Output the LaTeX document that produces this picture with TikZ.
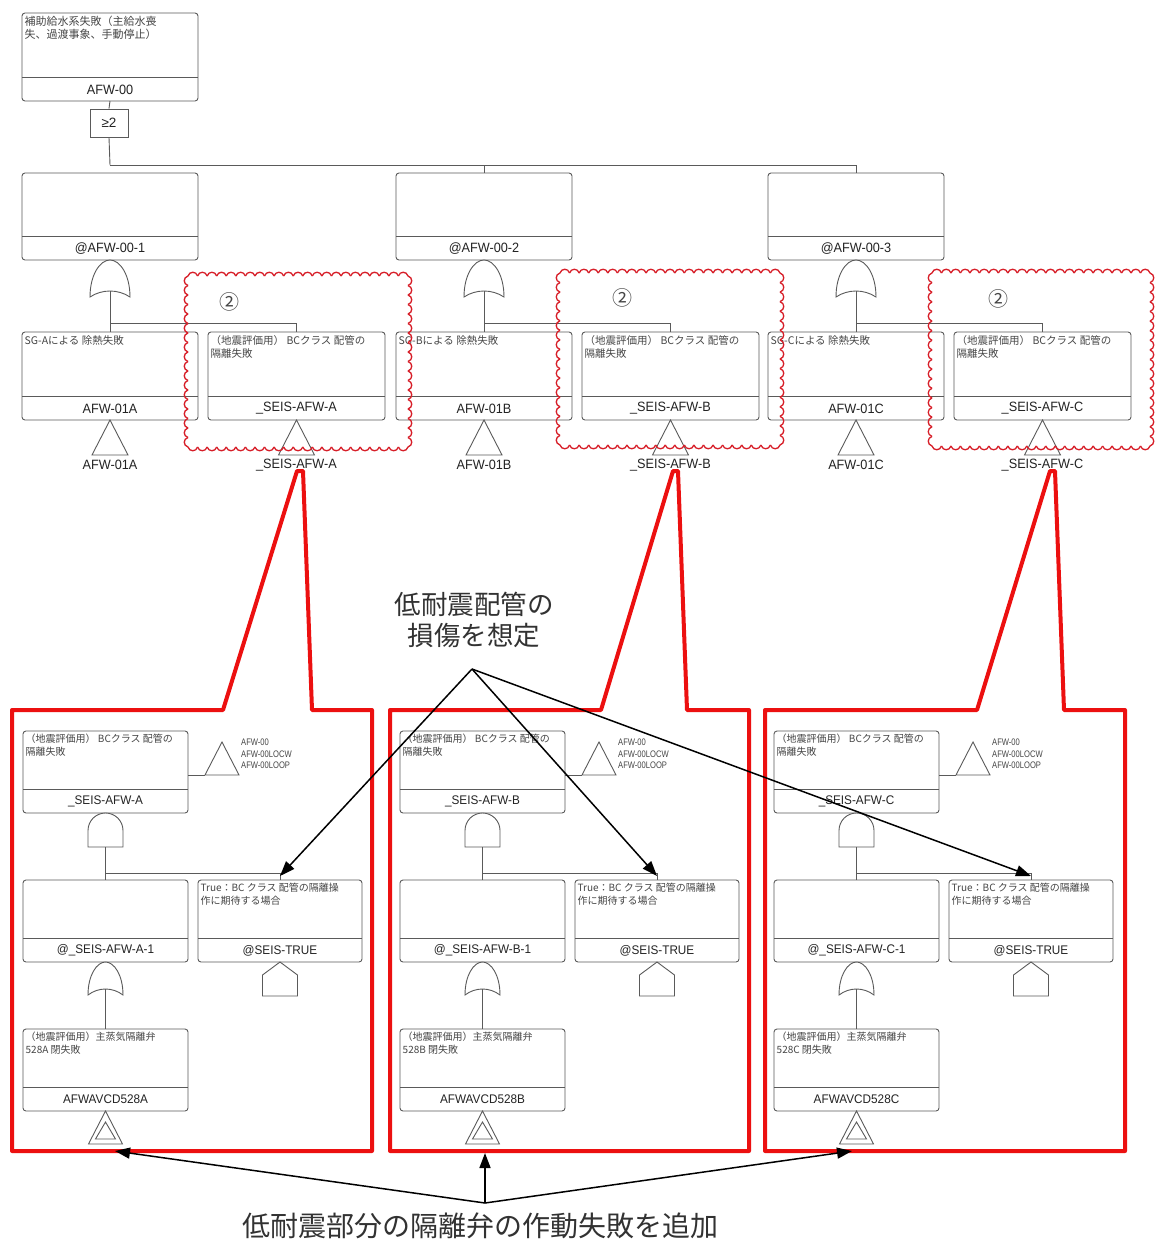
\documentclass[tikz,border=0pt]{standalone}
\usepackage{fontspec}
\setmainfont{Liberation Sans}
\newfontfamily\jp{Noto Sans CJK JP}
\newfontfamily\narrowfont[FakeStretch=0.8]{Liberation Sans}
\newfontfamily\labfont[FakeStretch=0.94]{Liberation Sans}
\usetikzlibrary{arrows.meta}
\definecolor{boxgray}{RGB}{90,90,90}
\definecolor{descgray}{RGB}{70,70,70}
\definecolor{labgray}{RGB}{35,35,35}
\definecolor{redc}{RGB}{236,16,16}
\definecolor{cloudred}{RGB}{215,30,40}
\definecolor{ctext}{RGB}{50,50,50}
\def\labsz{13.5}
\def\descsz{10.5}
\def\descbs{13}
\tikzset{
  ftbox/.style={draw=boxgray, line width=0.9pt, rounded corners=3pt, inner sep=0pt, outer sep=0pt, anchor=north west, fill=white},
  ftline/.style={draw=boxgray, line width=0.9pt},
  desc/.style={font={\jp\fontsize{\descsz}{\descbs}\selectfont}, text=descgray, align=left, inner sep=0pt, anchor=north west},
  lab/.style={font={\labfont\fontsize{\labsz}{\labsz}\selectfont}, text=labgray, inner sep=0pt},
  gate/.style={draw=boxgray, line width=0.9pt, fill=white},
  xfer/.style={font={\narrowfont\fontsize{9.5}{11.5}\selectfont}, text=descgray, align=left, inner sep=0pt},
  redpanel/.style={draw=redc, line width=4pt, line join=round},
  cloudline/.style={draw=cloudred, line width=1.3pt},
  callarrow/.style={draw=black, line width=1.5pt, -{Triangle[length=15pt,width=11pt]}},
  calltext/.style={font={\jp\fontsize{26.5}{31}\selectfont}, text=ctext, align=center, inner sep=0pt},
  circnum/.style={font={\jp\fontsize{20}{20}\selectfont}, text=descgray, inner sep=0pt},
}
% fault tree box: name, x, y(top), w, h, description, label
\newcommand{\ftb}[7]{%
  \node[ftbox, minimum width=#4pt, minimum height=#5pt] (#1) at (#2,#3) {};
  \draw[ftline] ([yshift=24pt]#1.south west) -- ([yshift=24pt]#1.south east);
  \node[desc] (#1-d) at ([xshift=2.5pt,yshift=-3pt]#1.north west) {#6};
  \node[lab] (#1-l) at ([yshift=11.5pt]#1.south) {#7};
}
% OR gate: name, x, top, bottom, half width
\newcommand{\orgate}[5]{%
  \coordinate (#1-t) at (#2,#3);
  \coordinate (#1-b) at (#2,{#4-6});
  \draw[gate] ({#2-#5},#4) .. controls ({#2-#5},{#3+0.4*(#4-#3)}) and ({#2-0.5*#5},#3) .. (#1-t)
     .. controls ({#2+0.5*#5},#3) and ({#2+#5},{#3+0.4*(#4-#3)}) .. ({#2+#5},#4)
     .. controls ({#2+0.4*#5},{#4-8}) and ({#2-0.4*#5},{#4-8}) .. cycle;
}
% AND gate: name, x, top, bottom, half width
\newcommand{\andgate}[5]{%
  \coordinate (#1-t) at (#2,#3);
  \coordinate (#1-b) at (#2,#4);
  \draw[gate] ({#2-#5},#4) -- ({#2-#5},{#3+#5}) arc[start angle=180, end angle=0, radius=#5pt] -- ({#2+#5},#4) -- cycle;
}
% triangle: name, x, top, bottom, half width
\newcommand{\fttri}[5]{%
  \coordinate (#1-t) at (#2,#3);
  \coordinate (#1-b) at (#2,#4);
  \coordinate (#1-bl) at ({#2-#5},#4);
  \draw[gate] (#1-t) -- ({#2+#5},#4) -- (#1-bl) -- cycle;
}
\newcommand{\ftdtri}[5]{%
  \fttri{#1}{#2}{#3}{#4}{#5}
  \draw[gate] (#2,{#3+11}) -- ({#2+10},{#4-5}) -- ({#2-10},{#4-5}) -- cycle;
}
% house: name, x, peak, shoulder, bottom, half width
\newcommand{\fthouse}[6]{%
  \coordinate (#1-t) at (#2,#3);
  \draw[gate] (#1-t) -- ({#2+#6},#4) -- ({#2+#6},#5) -- ({#2-#6},#5) -- ({#2-#6},#4) -- cycle;
}
% revision cloud rectangle
\newcommand{\cloudrect}[4]{%
  \pgfmathsetmacro\clw{#3-#1}%
  \pgfmathsetmacro\clh{#4-#2}%
  \pgfmathtruncatemacro\clnx{round(\clw/9.5)}%
  \pgfmathtruncatemacro\clny{round(\clh/9.5)}%
  \pgfmathsetmacro\clsx{\clw/\clnx}%
  \pgfmathsetmacro\clsy{\clh/\clny}%
  \foreach \i in {1,...,\clnx}{%
    \draw[cloudline] ({#1+(\i-1)*\clsx},#2) .. controls ({#1+(\i-0.85)*\clsx},{#2-5}) and ({#1+(\i-0.15)*\clsx},{#2-5}) .. ({#1+\i*\clsx},#2);
    \draw[cloudline] ({#1+(\i-1)*\clsx},#4) .. controls ({#1+(\i-0.85)*\clsx},{#4+5}) and ({#1+(\i-0.15)*\clsx},{#4+5}) .. ({#1+\i*\clsx},#4);
  }%
  \foreach \i in {1,...,\clny}{%
    \draw[cloudline] (#1,{#2+(\i-1)*\clsy}) .. controls ({#1-5},{#2+(\i-0.85)*\clsy}) and ({#1-5},{#2+(\i-0.15)*\clsy}) .. (#1,{#2+\i*\clsy});
    \draw[cloudline] (#3,{#2+(\i-1)*\clsy}) .. controls ({#3+5},{#2+(\i-0.85)*\clsy}) and ({#3+5},{#2+(\i-0.15)*\clsy}) .. (#3,{#2+\i*\clsy});
  }%
}
% upper group: suffix, dx, letter, number
\newcommand{\topgroup}[4]{%
  \ftb{la#1}{22+#2}{173}{176}{87}{}{@AFW-00-#4}
  \orgate{lo#1}{110+#2}{260}{297}{20}
  \ftb{sg#1}{22+#2}{332}{176}{88}{SG-#3による 除熱失敗}{AFW-01#3}
  \ftb{se#1}{208+#2}{332}{177}{88}{（地震評価用） BCクラス 配管の\\隔離失敗}{\_SEIS-AFW-#3}
  \fttri{ts#1}{110+#2}{420}{455}{18}
  \fttri{te#1}{296.5+#2}{420}{455}{18}
  \node[lab] (ts#1-l) at (110+#2,465) {AFW-01#3};
  \node[lab] (te#1-l) at (296.5+#2,465) {\_SEIS-AFW-#3};
  \draw[ftline] (lo#1-b) -- (sg#1.north);
  \coordinate (lb#1) at (110+#2,323);
  \draw[ftline] (lb#1) -| (se#1.north);
}
% lower panel: suffix, dx, letter
\newcommand{\lowpanel}[3]{%
  \ftb{pa#1}{23+#2}{731}{165}{82}{（地震評価用） BCクラス 配管の\\隔離失敗}{\_SEIS-AFW-#3}
  \fttri{pt#1}{222+#2}{742}{775}{17}
  \draw[ftline] (pa#1.east |- pt#1-b) -- (pt#1-bl);
  \node[xfer, anchor=north west] (px#1) at (241+#2,739) {AFW-00\\AFW-00LOCW\\AFW-00LOOP};
  \andgate{pg#1}{105.5+#2}{813}{847}{17.5}
  \ftb{pb#1}{23+#2}{880}{165}{82}{}{@\_SEIS-AFW-#3-1}
  \ftb{pc#1}{198+#2}{880}{164}{82}{True：BC クラス 配管の隔離操\\作に期待する場合}{@SEIS-TRUE}
  \fthouse{ph#1}{280+#2}{962}{975}{996}{17.5}
  \orgate{po#1}{105.5+#2}{962}{995}{17.5}
  \ftb{pd#1}{23+#2}{1029}{165}{82}{（地震評価用）主蒸気隔離弁\\528#3 閉失敗}{AFWAVCD528#3}
  \ftdtri{pu#1}{105.5+#2}{1111}{1144}{17}
  \draw[ftline] (pg#1-b) -- (pb#1.north);
  \coordinate (pbus#1) at (105.5+#2,873);
  \draw[ftline] (pbus#1) -| (pc#1.north);
  \draw[ftline] (po#1-b) -- (pd#1.north);
}
\begin{document}
\begin{tikzpicture}[x=1pt,y=-1pt]
\useasboundingbox (0,0) rectangle (1156,1248);
\fill[white] (0,0) rectangle (1156,1248);

% ---- top event
\def\descsz{11}
\ftb{top}{22}{13}{176}{88}{補助給水系失敗（主給水喪\\失、過渡事象、手動停止）}{AFW-00}
\def\descsz{10.5}
\node[draw=boxgray, line width=0.9pt, fill=white, minimum width=38pt, minimum height=28pt, inner sep=0pt, text=labgray, font={\fontsize{13.5}{13.5}\selectfont}] (g0) at (109,123) {≥2};
\draw[ftline] (top.south) -- (g0.north);
\coordinate (bus0) at (110,165);
\draw[ftline] (g0.south) -- (bus0);

\topgroup{A}{0}{A}{1}
\topgroup{B}{374}{B}{2}
\topgroup{C}{746}{C}{3}
\draw[ftline] (bus0) -| (laC.north);
\draw[ftline] (laB.north |- bus0) -- (laB.north);

% ---- lower panels
\def\labsz{12.5}
\def\descsz{10}
\def\descbs{12.5}
\lowpanel{A}{0}{A}
\lowpanel{B}{377}{B}
\lowpanel{C}{751}{C}

% ---- revision clouds
\cloudrect{188}{276}{408}{447}
\cloudrect{560}{273}{780}{445}
\cloudrect{932}{273}{1150}{446}
\node[circnum] (c2A) at (229,302) {②};
\node[circnum] (c2B) at (622,298) {②};
\node[circnum] (c2C) at (998,299) {②};

% ---- red callout panels
\draw[redpanel] (12,710) -- (223,710) -- (297,471) -- (303,471) -- (312,710) -- (372,710) -- (372,1151) -- (12,1151) -- cycle;
\draw[redpanel] (390,710) -- (601,710) -- (673,471) -- (678,471) -- (687,710) -- (749,710) -- (749,1151) -- (390,1151) -- cycle;
\draw[redpanel] (765,710) -- (977,710) -- (1050,471) -- (1055,471) -- (1064,710) -- (1125,710) -- (1125,1151) -- (765,1151) -- cycle;

% ---- annotations
\node[calltext] (t1) at (474,620) {低耐震配管の\\損傷を想定};
\coordinate (src1) at (472,669);
\draw[callarrow] (src1) -- ([yshift=4pt]pcA.north);
\draw[callarrow] (src1) -- ([yshift=4pt]pcB.north);
\draw[callarrow] (src1) -- ([yshift=4pt]pcC.north);

\node[font={\jp\fontsize{28}{28}\selectfont}, text=ctext, inner sep=0pt] (t2) at (480,1226) {低耐震部分の隔離弁の作動失敗を追加};
\coordinate (src2) at (485,1203);
\coordinate (tgA) at (115,1151);
\coordinate (tgB) at (485,1153);
\coordinate (tgC) at (852,1151);
\draw[callarrow] (src2) -- (tgA);
\draw[callarrow] (src2) -- (tgB);
\draw[callarrow] (src2) -- (tgC);
\end{tikzpicture}
\end{document}
